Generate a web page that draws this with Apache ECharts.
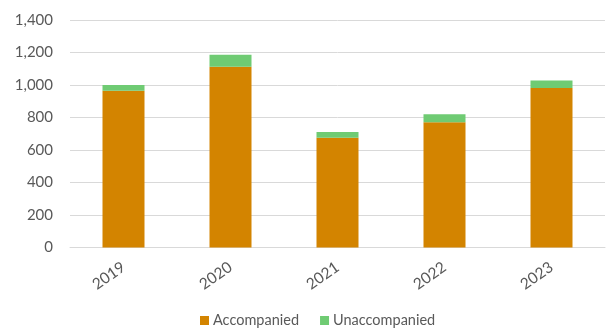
<!DOCTYPE html>
<html>
<head>
<meta charset="utf-8">
<script src="https://cdn.jsdelivr.net/npm/echarts@6/dist/echarts.min.js"></script>
<style>
  html, body { margin: 0; padding: 0; background: #fff; }
  #chart { width: 611px; height: 329px; }
</style>
</head>
<body>
<div id="chart"></div>
<script>
// Yearly counts, split by whether the person was accompanied
const years = ['2019', '2020', '2021', '2022', '2023'];
const accompanied = [965, 1113, 675, 771, 981];
const unaccompanied = [35, 73, 36, 49, 47];
const seriesNames = ['Accompanied', 'Unaccompanied'];

const FONT = 'Lato, "Open Sans", sans-serif';
const TEXT = '#595959';

const chart = echarts.init(document.getElementById('chart'), null, { renderer: 'canvas' });
chart.setOption({
  animation: false,
  grid: { left: 70, right: 6, top: 20, bottom: 81.5, containLabel: false },
  legend: {
    top: 313,
    left: 200,
    padding: 0,
    itemWidth: 9,
    itemHeight: 9,
    itemGap: 21,
    icon: 'rect',
    textStyle: { color: TEXT, fontSize: 14.5, fontFamily: FONT, padding: [0, 0, 0, -1] },
    data: seriesNames
  },
  xAxis: {
    type: 'category',
    data: years,
    axisLine: { lineStyle: { color: '#d9d9d9', width: 1 } },
    axisTick: { show: false },
    axisLabel: { color: TEXT, fontSize: 15.5, fontFamily: FONT, rotate: 35, margin: 18 }
  },
  yAxis: {
    type: 'value',
    min: 0,
    max: 1400,
    interval: 200,
    axisLine: { show: false },
    axisTick: { show: false },
    splitLine: { lineStyle: { color: '#d9d9d9', width: 1 } },
    axisLabel: {
      color: TEXT, fontSize: 15, fontFamily: FONT, margin: 17,
      formatter: v => v.toLocaleString('en-US')
    }
  },
  series: [
    {
      name: seriesNames[0], type: 'bar', stack: 'total', barWidth: 42,
      itemStyle: { color: '#D38400' },
      data: accompanied
    },
    {
      name: seriesNames[1], type: 'bar', stack: 'total', barWidth: 42,
      itemStyle: { color: '#6FCB73' },
      data: unaccompanied
    }
  ]
});
</script>
</body>
</html>
